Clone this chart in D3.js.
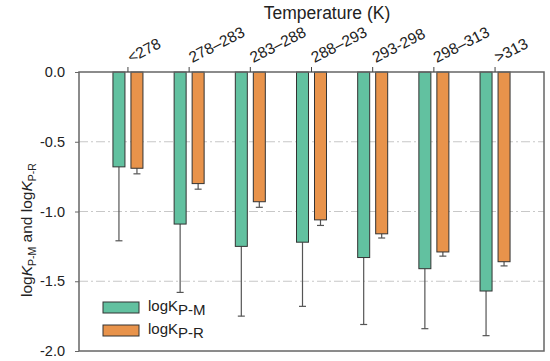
<!DOCTYPE html>
<html>
<head>
<meta charset="utf-8">
<script src="https://cdn.jsdelivr.net/npm/d3@7"></script>
<style>
  body { margin: 0; background: #fff; }
  text { font-family: "Liberation Sans", Arial, sans-serif; fill: #222; }
</style>
</head>
<body>
<svg id="chart" width="550" height="361"></svg>
<script>
// data
var categories = ["<278", "278\u2013283", "283\u2013288", "288\u2013293", "293-298", "298\u2013313", ">313"];
var logKPM = [-0.68, -1.09, -1.25, -1.22, -1.33, -1.41, -1.57];
var errPM = [0.53, 0.49, 0.50, 0.46, 0.48, 0.43, 0.32];
var logKPR = [-0.69, -0.80, -0.93, -1.06, -1.16, -1.29, -1.36];
var errPR = [0.04, 0.04, 0.04, 0.04, 0.03, 0.03, 0.03];
var yTicks = [0, -0.5, -1.0, -1.5, -2.0];
var gridTicks = [-0.5, -1.0, -1.5];

var colPM = "#62c1a0", colPR = "#e8934b";

var svg = d3.select("#chart"),
    margin = {top: 72, right: 6, bottom: 10, left: 79},
    W = 550, H = 361;

var x = d3.scaleBand().domain(categories)
    .range([margin.left, W - margin.right])
    .paddingInner(0).paddingOuter(0.3);
var y = d3.scaleLinear().domain([-2, 0]).range([H - margin.bottom, margin.top]);

// grid
svg.append("g").selectAll("line").data(gridTicks).enter().append("line")
    .attr("x1", margin.left).attr("x2", W - margin.right)
    .attr("y1", function(d) { return y(d); }).attr("y2", function(d) { return y(d); })
    .attr("stroke", "#c8c8c8").attr("stroke-width", 1.2)
    .attr("stroke-dasharray", "9,3,2,3");

// y axis
var yAxis = svg.append("g")
    .attr("transform", "translate(" + margin.left + ",0)")
    .call(d3.axisLeft(y).tickValues(yTicks).tickSize(4).tickPadding(10));
yAxis.select(".domain").remove();
yAxis.selectAll("line").attr("stroke", "#666");
yAxis.selectAll("text").attr("font-size", 14.5).attr("fill", "#222")
    .text(function(d) { return d3.format(".1f")(d).replace("\u2212", "-"); });

// bars
var bw = 12, off = 3;
function drawSeries(vals, errs, color, side) {
  var g = svg.append("g");
  categories.forEach(function(c, i) {
    var cx = x(c) + x.bandwidth() / 2;
    var x0 = side < 0 ? cx - off - bw : cx + off;
    var xm = x0 + bw / 2;
    g.append("line")
        .attr("x1", xm).attr("x2", xm)
        .attr("y1", y(vals[i])).attr("y2", y(vals[i] - errs[i]))
        .attr("stroke", "#555").attr("stroke-width", 1.2);
    g.append("line")
        .attr("x1", xm - 3.5).attr("x2", xm + 3.5)
        .attr("y1", y(vals[i] - errs[i])).attr("y2", y(vals[i] - errs[i]))
        .attr("stroke", "#555").attr("stroke-width", 1.2);
    g.append("rect")
        .attr("x", x0).attr("y", y(0))
        .attr("width", bw).attr("height", y(vals[i]) - y(0))
        .attr("fill", color).attr("stroke", "#333").attr("stroke-width", 1);
  });
}
drawSeries(logKPM, errPM, colPM, -1);
drawSeries(logKPR, errPR, colPR, 1);

// frame
svg.append("rect")
    .attr("x", margin.left).attr("y", margin.top)
    .attr("width", W - margin.right - margin.left)
    .attr("height", H - margin.bottom - margin.top)
    .attr("fill", "none").attr("stroke", "#666").attr("stroke-width", 1.5);

// top category ticks and rotated labels
var topAxis = svg.append("g");
categories.forEach(function(c) {
  var cx = x(c) + x.bandwidth() / 2;
  topAxis.append("line").attr("x1", cx).attr("x2", cx)
      .attr("y1", margin.top).attr("y2", margin.top - 5)
      .attr("stroke", "#444");
  topAxis.append("text")
      .attr("transform", "translate(" + (cx + 3) + "," + (margin.top - 9) + ") rotate(-27)")
      .attr("font-size", 15.5)
      .text(c);
});

svg.append("text")
    .attr("x", 327).attr("y", 19)
    .attr("text-anchor", "middle").attr("font-size", 17.5)
    .text("Temperature (K)");

// y title
var yt = svg.append("text")
    .attr("transform", "translate(32,297) rotate(-90)")
    .attr("font-size", 15.5);
yt.append("tspan").text("log");
yt.append("tspan").attr("font-style", "italic").text("K");
yt.append("tspan").attr("font-size", 10.5).attr("dy", 4).text("P-M");
yt.append("tspan").attr("dy", -4).text(" and log");
yt.append("tspan").attr("font-style", "italic").text("K");
yt.append("tspan").attr("font-size", 10.5).attr("dy", 4).text("P-R");

// legend
var legend = svg.append("g");
[["P-M", colPM], ["P-R", colPR]].forEach(function(d, i) {
  var ly = 302 + i * 23;
  legend.append("rect").attr("x", 103).attr("y", ly)
      .attr("width", 36).attr("height", 11)
      .attr("fill", d[1]).attr("stroke", "#333").attr("stroke-width", 1);
  var t = legend.append("text").attr("x", 148).attr("y", ly + 9).attr("font-size", 15);
  t.append("tspan").text("logK");
  t.append("tspan").attr("font-size", 15).attr("dy", 4).text(d[0]);
});
</script>
</body>
</html>
